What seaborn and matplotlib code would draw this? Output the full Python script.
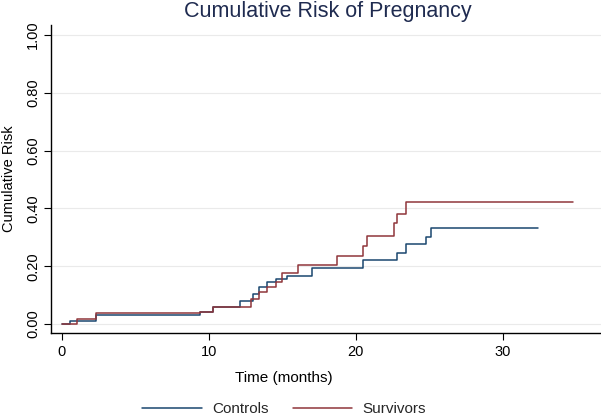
import matplotlib
matplotlib.use("Agg")
import matplotlib.pyplot as plt
import seaborn as sns
import pandas as pd
from matplotlib.lines import Line2D

# ---- data ----
controls_time = [0, 0.55, 2.3, 9.4, 10.3, 12.1, 13.0, 13.4, 14.0, 14.6, 15.3, 17.0, 20.5, 22.8, 23.4, 24.8, 25.1, 32.4]
controls_risk = [0, 0.012, 0.031, 0.043, 0.058, 0.080, 0.103, 0.127, 0.146, 0.155, 0.166, 0.194, 0.221, 0.247, 0.276, 0.302, 0.333, 0.333]
survivors_time = [0, 1.05, 2.3, 9.4, 10.3, 12.9, 13.4, 14.0, 14.6, 15.0, 16.1, 18.7, 20.5, 20.8, 22.6, 22.85, 23.4, 34.8]
survivors_risk = [0, 0.017, 0.037, 0.041, 0.058, 0.085, 0.110, 0.127, 0.146, 0.178, 0.206, 0.236, 0.270, 0.305, 0.348, 0.382, 0.423, 0.423]
groups = ["Controls", "Survivors"]
y_ticks = [0.0, 0.2, 0.4, 0.6, 0.8, 1.0]
y_tick_labels = ["0.00", "0.20", "0.40", "0.60", "0.80", "1.00"]
x_ticks = [0, 10, 20, 30]

df = pd.concat([
    pd.DataFrame({"time": controls_time, "risk": controls_risk, "group": groups[0]}),
    pd.DataFrame({"time": survivors_time, "risk": survivors_risk, "group": groups[1]}),
])

sns.set_style("white")
plt.rcParams["font.family"] = ["Liberation Sans", "DejaVu Sans"]

W, H = 601, 415
fig = plt.figure(figsize=(W / 100, H / 100), dpi=100)
ax_left, ax_right, ax_top, ax_bottom = 51, 601, 25, 333
ax = fig.add_axes([ax_left / W, (H - ax_bottom) / H, (ax_right - ax_left) / W, (ax_bottom - ax_top) / H])

palette = {"Controls": "#1a476f", "Survivors": "#90353b"}
sns.lineplot(data=df, x="time", y="risk", hue="group", palette=palette,
             drawstyle="steps-post", estimator=None, linewidth=1.1, ax=ax, legend=False)

ax.set_xlim(-0.73, 36.7)
ax.set_ylim(-0.031, 1.035)
ax.set_xticks(x_ticks)
ax.set_yticks(y_ticks)
ax.set_yticklabels(y_tick_labels, rotation=90, va="center")
ax.tick_params(axis="both", direction="out", length=5, width=0.8, color="black",
               labelsize=10.5, labelcolor="black", left=True, bottom=True)
ax.tick_params(axis="y", pad=3)
ax.grid(axis="y", color="#eaeaea", linewidth=0.8)
ax.grid(axis="x", visible=False)
for s in ["top", "right"]:
    ax.spines[s].set_visible(False)
for s in ["left", "bottom"]:
    ax.spines[s].set_color("black")
    ax.spines[s].set_linewidth(1.0)

ax.set_ylabel("Cumulative Risk", fontsize=10.5, color="black", va="center")
ax.yaxis.set_label_coords(-(ax_left - 9) / (ax_right - ax_left), 0.5)
ax.set_xlabel("Time (months)", fontsize=11, color="black", va="center")
ax.xaxis.set_label_coords((284 - ax_left) / (ax_right - ax_left), -(378 - ax_bottom) / (ax_bottom - ax_top))

fig.text(328 / W, 1 - 12 / H, "Cumulative Risk of Pregnancy", ha="center", va="center",
         fontsize=15.5, color="#1f2b50")

handles = [Line2D([], [], color=palette[g], linewidth=1.1) for g in groups]
fig.legend(handles, groups, loc="center", bbox_to_anchor=(284 / W, (H - 409) / H), ncol=2,
           frameon=False, fontsize=11, handlelength=3.9, handletextpad=0.65, columnspacing=1.6,
           borderpad=0)

fig.savefig("out.png", dpi=100)
